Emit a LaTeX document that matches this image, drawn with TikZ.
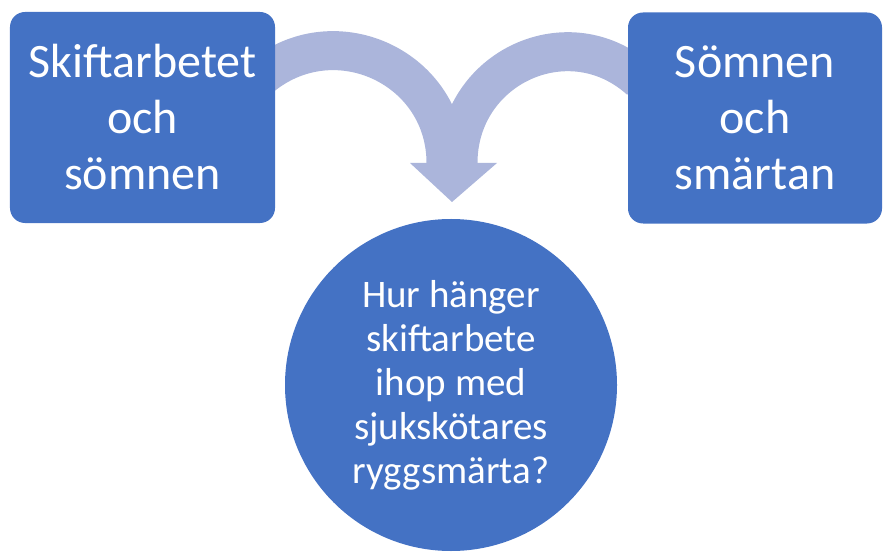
\documentclass[tikz,border=0pt]{standalone}
\usepackage{fontspec}
\setmainfont{Carlito}
\definecolor{boxblue}{HTML}{4472C4}
\definecolor{arrowblue}{HTML}{ABB5DB}

\begin{document}
\begin{tikzpicture}[
    x=1bp, y=-1bp,
    topic/.style={rectangle, rounded corners=15bp, fill=boxblue, text=white, minimum width=265bp, minimum height=211bp, align=center, font=\fontsize{48bp}{56bp}\selectfont},
    question/.style={circle, fill=boxblue, text=white, minimum size=332bp, inner sep=0pt, align=center, font=\fontsize{39bp}{44bp}\selectfont},
    shaft/.style={draw=arrowblue, line width=39bp},
    head/.style={fill=arrowblue}
]
    \useasboundingbox (0,0) rectangle (884,554);

    % Curved arrows
    \coordinate (L0) at (263.4,75);
    \coordinate (L1) at (446,163);
    \coordinate (R0) at (639.9,80);
    \coordinate (R1) at (458,163);
    \coordinate (H1) at (410,163);
    \coordinate (H2) at (497,163);
    \coordinate (T) at (452,202);

    \draw[shaft] (L0) .. controls (337.6,17) and (446,68.9) .. (L1);
    \draw[shaft] (R0) .. controls (568.9,16.1) and (458,67.5) .. (R1);
    \fill[head] (H1) -- (H2) -- (T) -- cycle;

    % Boxes
    \node[topic] (A) at (142.5,117.5) {Skiftarbetet\\och\\sömnen};
    \node[topic, minimum width=254bp] (B) at (755,118) {Sömnen\\och\\smärtan};

    % Question
    \node[question] (Q) at (451,385) {Hur hänger\\skiftarbete\\ihop med\\sjukskötares\\ryggsmärta?};

\end{tikzpicture}
\end{document}
